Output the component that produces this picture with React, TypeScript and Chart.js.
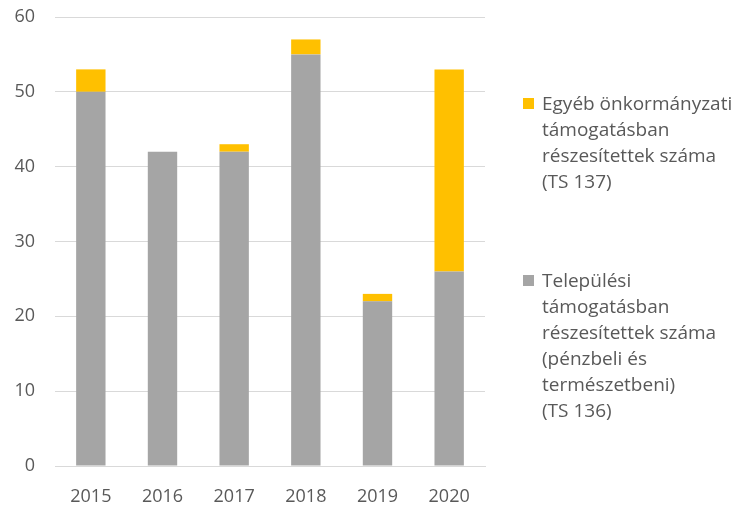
import React, { useEffect, useRef } from "react";
import { Chart, registerables } from "chart.js";

Chart.register(...registerables);

const years = ["2015", "2016", "2017", "2018", "2019", "2020"];
const telepulesi = [50, 42, 42, 55, 22, 26];
const egyeb = [3, 0, 1, 2, 1, 27];
const yTicks = [0, 10, 20, 30, 40, 50, 60];

const legendEgyeb = ["Egyéb önkormányzati", "támogatásban", "részesítettek száma", "(TS 137)"];
const legendTelepulesi = [
  "Települési",
  "támogatásban",
  "részesítettek száma",
  "(pénzbeli és",
  "természetbeni)",
  "(TS 136)",
];

const GRAY = "#A5A5A5";
const YELLOW = "#FFC000";
const TEXT = "#595959";
const FONT = "'Open Sans', sans-serif";

export default function App() {
  const ref = useRef<HTMLCanvasElement | null>(null);

  useEffect(() => {
    if (!ref.current) return;
    const chart = new Chart(ref.current, {
      type: "bar",
      data: {
        labels: years,
        datasets: [
          {
            label: legendTelepulesi.join(" "),
            data: telepulesi,
            backgroundColor: GRAY,
            barPercentage: 0.41,
            categoryPercentage: 1,
          },
          {
            label: legendEgyeb.join(" "),
            data: egyeb,
            backgroundColor: YELLOW,
            barPercentage: 0.41,
            categoryPercentage: 1,
          },
        ],
      },
      options: {
        animation: false,
        responsive: false,
        layout: { padding: { left: 0, right: 268, top: 17, bottom: 0 } },
        plugins: { legend: { display: false }, tooltip: { enabled: false } },
        scales: {
          x: {
            stacked: true,
            grid: { display: false, drawTicks: false },
            border: { display: true, color: "#D9D9D9", width: 1 },
            ticks: { color: TEXT, font: { family: FONT, size: 18 }, padding: 20 },
            afterFit: (axis: any) => {
              axis.height = 41;
              axis.paddingLeft = 0;
              axis.paddingRight = 0;
            },
          },
          y: {
            stacked: true,
            min: 0,
            max: 60,
            afterBuildTicks: (axis: any) => {
              axis.ticks = yTicks.map((v) => ({ value: v }));
            },
            afterFit: (axis: any) => {
              axis.width = 55;
              axis.paddingTop = 0;
              axis.paddingBottom = 0;
            },
            grid: { color: "#D9D9D9", lineWidth: 1, drawTicks: false },
            border: { display: false },
            ticks: { color: TEXT, font: { family: FONT, size: 18 }, padding: 20 },
          },
        },
      },
    });
    return () => chart.destroy();
  }, []);

  const legendItem = (color: string, lines: string[], top: number) => (
    <div style={{ position: "absolute", left: 523, top, display: "flex" }}>
      <div
        style={{
          width: 11,
          height: 11,
          background: color,
          marginTop: 8,
          marginRight: 8,
          flex: "none",
        }}
      />
      <div style={{ fontFamily: FONT, fontSize: 19, lineHeight: "26px", color: TEXT, whiteSpace: "nowrap" }}>
        {lines.map((l, i) => (
          <div key={i}>{l}</div>
        ))}
      </div>
    </div>
  );

  return (
    <div style={{ position: "fixed", left: 0, top: 0, width: 753, height: 507, background: "#fff" }}>
      <canvas ref={ref} width={753} height={507} style={{ position: "absolute", left: 0, top: 0 }} />
      {legendItem(YELLOW, legendEgyeb, 90)}
      {legendItem(GRAY, legendTelepulesi, 267)}
    </div>
  );
}
